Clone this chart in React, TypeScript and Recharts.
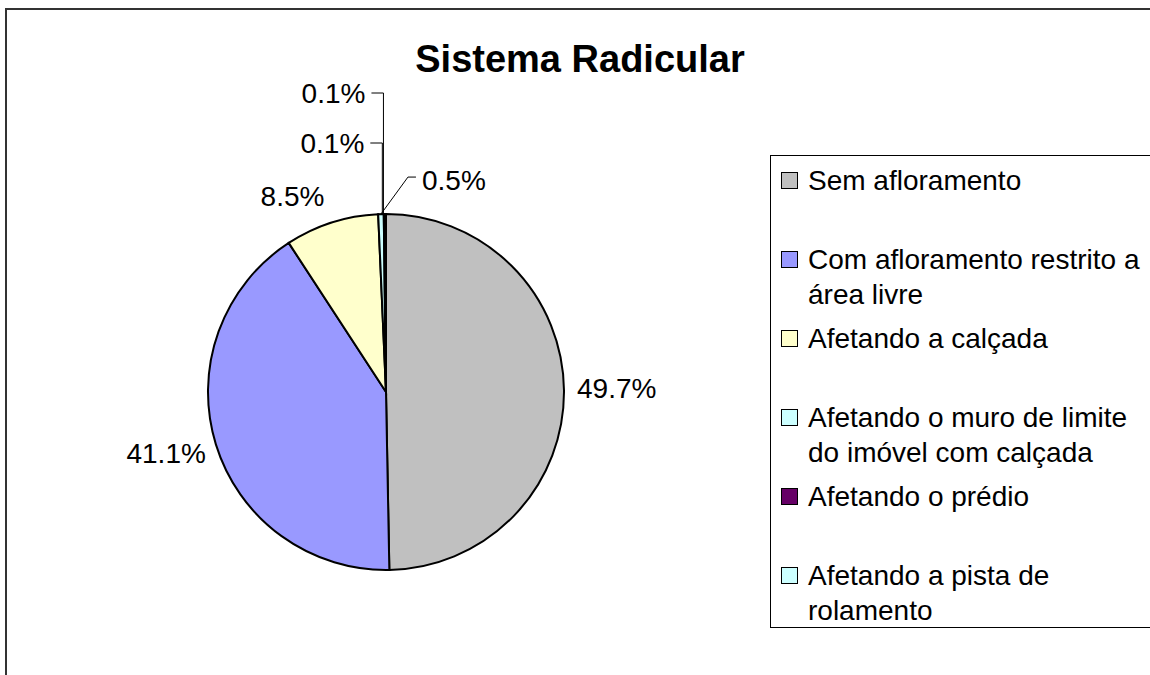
import React from 'react';
import { PieChart, Pie, Cell, Legend } from 'recharts';

const categories = [
  'Sem afloramento',
  'Com afloramento restrito a área livre',
  'Afetando a calçada',
  'Afetando o muro de limite do imóvel com calçada',
  'Afetando o prédio',
  'Afetando a pista de rolamento',
];
const shares = [49.7, 41.1, 8.5, 0.5, 0.1, 0.1];
// legend lines as wrapped in the original
const legendLines = [
  ['Sem afloramento'],
  ['Com afloramento restrito a', 'área livre'],
  ['Afetando a calçada'],
  ['Afetando o muro de limite', 'do imóvel com calçada'],
  ['Afetando o prédio'],
  ['Afetando a pista de', 'rolamento'],
];
const COLORS = ['#C0C0C0', '#9999FF', '#FFFFCC', '#CCFFFF', '#660066', '#CCFFFF'];

const data = categories.map((name, i) => ({ name, value: shares[i] }));

const FONT = '"Liberation Sans", Arial, sans-serif';
const RAD = Math.PI / 180;

// label placement relative to each slice's outer point
const LABEL_POS: any[] = [
  { dx: 13, dy: -2, anchor: 'start' },
  { dx: -10, dy: 9, anchor: 'end' },
  { dx: -39, dy: -26, anchor: 'middle' },
  { leader: 'diag', dx: 27, dy: -37 },
  { leader: 'up', dy: -71 },
  { leader: 'up', dy: -121 },
];

const renderLabel = (props: any) => {
  const { cx, cy, midAngle, outerRadius, index, value } = props;
  const px = cx + outerRadius * Math.cos(-midAngle * RAD);
  const py = cy + outerRadius * Math.sin(-midAngle * RAD);
  const pos = LABEL_POS[index];
  const txt = `${Number(value).toFixed(1)}%`;
  const textProps = { fontFamily: FONT, fontSize: 28, fill: '#000', dominantBaseline: 'central' as const };
  if (pos.leader === 'diag') {
    const x1 = px + pos.dx;
    const y1 = py + pos.dy;
    return (
      <g key={`l-${index}`}>
        <polyline points={`${px},${py} ${x1},${y1} ${x1 + 8},${y1}`} fill="none" stroke="#000" strokeWidth={1} />
        <text x={x1 + 14} y={y1 + 3} textAnchor="start" {...textProps}>{txt}</text>
      </g>
    );
  }
  if (pos.leader === 'up') {
    const y1 = py + pos.dy;
    const lx = px - 2;
    return (
      <g key={`l-${index}`}>
        <polyline points={`${lx},${py} ${lx},${y1} ${lx - 12},${y1}`} fill="none" stroke="#000" strokeWidth={1} />
        <text x={lx - 18} y={y1} textAnchor="end" {...textProps}>{txt}</text>
      </g>
    );
  }
  return (
    <text key={`l-${index}`} x={px + pos.dx} y={py + pos.dy} textAnchor={pos.anchor} {...textProps}>
      {txt}
    </text>
  );
};

const renderLegend = () => (
  <div
    style={{
      borderTop: '1px solid #000',
      borderLeft: '1px solid #000',
      borderBottom: '1px solid #000',
      width: 420,
      height: 473,
      boxSizing: 'border-box',
      paddingTop: 7,
      fontFamily: FONT,
      fontSize: 28,
      background: '#fff',
    }}
  >
    {legendLines.map((lines, i) => (
      <div key={i} style={{ position: 'relative', height: 79, paddingLeft: 37 }}>
        <div
          style={{
            position: 'absolute',
            left: 10,
            top: 9,
            width: 15,
            height: 15,
            background: COLORS[i],
            border: '1px solid #000',
          }}
        />
        {lines.map((l, j) => (
          <div key={j} style={{ lineHeight: '35px', whiteSpace: 'nowrap', color: '#000' }}>{l}</div>
        ))}
      </div>
    ))}
  </div>
);

export default function App() {
  return (
    <div style={{ position: 'absolute', left: 0, top: 0, width: 1150, height: 675, overflow: 'hidden', background: '#fff' }}>
      <PieChart width={1150} height={675} margin={{ top: 0, right: 0, bottom: 0, left: 0 }}>
        <Pie
          data={data}
          dataKey="value"
          nameKey="name"
          cx={386}
          cy={392}
          outerRadius={178}
          startAngle={90}
          endAngle={-270}
          stroke="#000"
          strokeWidth={2}
          label={renderLabel}
          labelLine={false}
          isAnimationActive={false}
        >
          {data.map((entry, index) => (
            <Cell key={`cell-${index}`} fill={COLORS[index % COLORS.length]} />
          ))}
        </Pie>
        <Legend
          content={renderLegend}
          layout="vertical"
          align="right"
          verticalAlign="top"
          wrapperStyle={{ left: 770, top: 155, right: 'auto', width: 420, overflow: 'visible' }}
        />
      </PieChart>
      <svg width={1150} height={675} style={{ position: 'absolute', left: 0, top: 0, pointerEvents: 'none' }}>
        <line x1={5} y1={9} x2={1150} y2={9} stroke="#333" strokeWidth={2} />
        <line x1={6} y1={8} x2={6} y2={675} stroke="#333" strokeWidth={2} />
        <text x={580} y={72} textAnchor="middle" fontFamily={FONT} fontWeight="bold" fontSize={38} fill="#000">
          Sistema Radicular
        </text>
      </svg>
    </div>
  );
}
